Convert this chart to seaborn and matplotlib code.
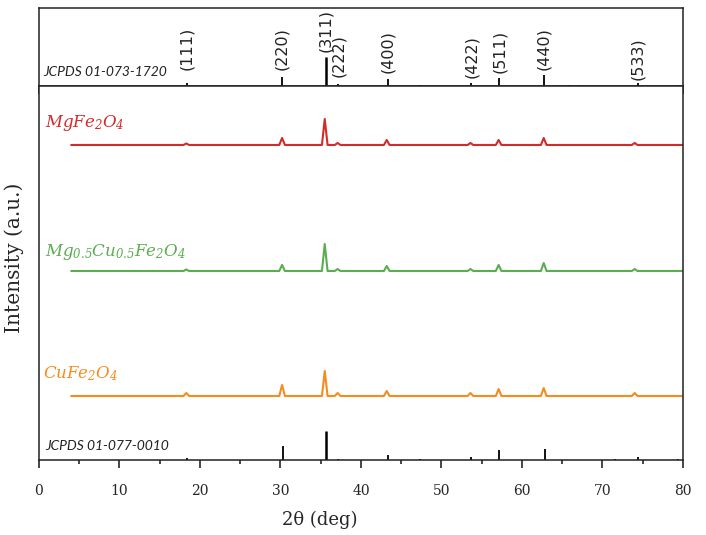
import numpy as np
import matplotlib
matplotlib.use('Agg')
import matplotlib.pyplot as plt
from matplotlib.ticker import MultipleLocator
import pandas as pd
import seaborn as sns

# reference pattern (top panel), JCPDS 01-073-1720
ref_top_pos = [18.4, 30.2, 35.6, 37.2, 43.3, 47.3, 53.7, 57.2, 62.7, 65.9, 67.1, 74.4, 79.4]
ref_top_int = [3, 9, 29, 2, 7, 1, 3, 8, 11, 1, 1, 3, 1]

hkl_labels = ['(111)', '(220)', '(311)', '(222)', '(400)', '(422)', '(511)', '(440)', '(533)']
hkl_pos = [18.4, 30.2, 35.6, 37.2, 43.3, 53.7, 57.2, 62.7, 74.4]

# reference pattern (bottom of main panel), JCPDS 01-077-0010
ref_bot_pos = [18.4, 30.3, 35.6, 37.1, 43.3, 47.3, 53.7, 57.2, 62.8, 71.5, 74.4, 79.4]
ref_bot_int = [2, 14, 29, 1, 5, 1, 3, 10, 11, 1, 3, 1]

# measured patterns: peak positions (deg) and heights (a.u.)
peak_pos = [18.3, 30.2, 35.5, 37.1, 43.2, 53.6, 57.1, 62.7, 74.0]
mg_int = [1.5, 7, 26, 2, 5, 2, 5, 7, 2]
mgcu_int = [1.5, 6, 27, 2, 5, 2, 6, 8, 2]
cu_int = [3, 11, 25, 3, 5, 3, 7, 8, 3]

samples = ['MgFe$_{2}$O$_{4}$', 'Mg$_{0.5}$Cu$_{0.5}$Fe$_{2}$O$_{4}$', 'CuFe$_{2}$O$_{4}$']
offsets = [315, 189, 64]
colors = ['#d42a2a', '#5aad50', '#f58c1e']

sns.set_style('ticks')
plt.rcParams['mathtext.fontset'] = 'custom'
plt.rcParams['mathtext.it'] = 'DejaVu Serif:italic'
plt.rcParams['mathtext.rm'] = 'DejaVu Serif:italic'
plt.rcParams['font.family'] = ['DejaVu Serif']


def trace(pos, ints, off, hw=0.35):
    xs, ys = [4.0], [off]
    for p, h in zip(pos, ints):
        xs += [p - hw, p, p + hw]
        ys += [off, off + h, off]
    xs.append(80.0)
    ys.append(off)
    return pd.DataFrame({'two_theta': xs, 'intensity': ys})


fig = plt.figure(figsize=(7.06, 5.35), dpi=100)
ax_top = fig.add_axes([0.0552, 0.8393, 0.9122, 0.1457])
ax = fig.add_axes([0.0552, 0.1402, 0.9122, 0.6991])

# ---- top panel
ax_top.vlines(ref_top_pos, 0, ref_top_int, color='black',
              lw=[1.8 if h > 20 else 1.3 for h in ref_top_int])
lab_bottom = [16, 16, 34, 9, 13, 8, 13, 16, 6]
for lab, x, yb in zip(hkl_labels, hkl_pos, lab_bottom):
    ax_top.text(x, yb, lab, rotation=90, ha='center', va='bottom',
                fontsize=11.5, family='DejaVu Sans', color='#222222')
ax_top.text(0.5, 10, 'JCPDS 01-073-1720', family='Lato', style='italic',
            fontsize=10, color='#222222', va='baseline')
ax_top.set_xlim(0, 80)
ax_top.set_ylim(0, 78)
ax_top.set_yticks([])
ax_top.xaxis.set_major_locator(MultipleLocator(10))
ax_top.xaxis.set_minor_locator(MultipleLocator(5))
ax_top.tick_params(axis='x', which='both', direction='out', labelbottom=False)
ax_top.tick_params(axis='x', which='major', length=6, width=1.2)
ax_top.tick_params(axis='x', which='minor', length=3, width=1.2)

# ---- main panel
for name, ints, off, c in zip(samples, [mg_int, mgcu_int, cu_int], offsets, colors):
    sns.lineplot(data=trace(peak_pos, ints, off), x='two_theta', y='intensity',
                 ax=ax, color=c, lw=1.5, estimator=None, sort=False)

ax.vlines(ref_bot_pos, 0, ref_bot_int, color='black',
          lw=[1.8 if h > 20 else 1.3 for h in ref_bot_int])

ax.text(0.75, 333, r'$\mathit{MgFe_{2}O_{4}}$', color=colors[0], fontsize=12, va='baseline')
ax.text(0.75, 204, r'$\mathit{Mg_{0.5}Cu_{0.5}Fe_{2}O_{4}}$', color=colors[1], fontsize=12, va='baseline')
ax.text(0.5, 82, r'$\mathit{CuFe_{2}O_{4}}$', color=colors[2], fontsize=12, va='baseline')
ax.text(0.75, 10, 'JCPDS 01-077-0010', family='Lato', style='italic',
        fontsize=10, color='#222222', va='baseline')

ax.set_xlim(0, 80)
ax.set_ylim(0, 374)
ax.set_yticks([])
ax.xaxis.set_major_locator(MultipleLocator(10))
ax.xaxis.set_minor_locator(MultipleLocator(5))
ax.tick_params(axis='x', which='both', direction='out', top=False, labelsize=10, pad=11)
ax.tick_params(axis='x', which='major', length=6, width=1.2)
ax.tick_params(axis='x', which='minor', length=3, width=1.2)
ax.set_xlabel('2θ (deg)', fontsize=13)
ax.xaxis.set_label_coords(0.436, -0.135)
ax.set_ylabel('Intensity (a.u.)', fontsize=14.5)
ax.yaxis.set_label_coords(-0.024, 0.54)

for a in (ax, ax_top):
    for s in a.spines.values():
        s.set_linewidth(1.1)
        s.set_color('#222222')

fig.savefig('out.png', dpi=100)
